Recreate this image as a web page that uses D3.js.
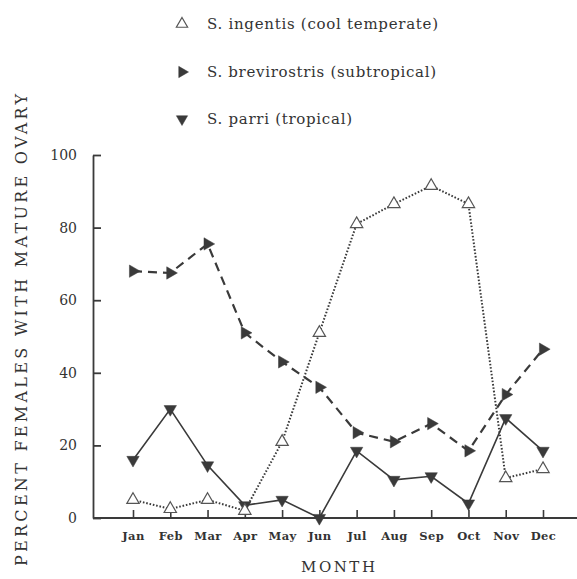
<!DOCTYPE html>
<html><head><meta charset="utf-8">
<script src="https://cdn.jsdelivr.net/npm/d3@7"></script>
<style>
html,body{margin:0;padding:0;background:#fff;}
svg{display:block;}
</style></head>
<body>
<svg id="chart" width="577" height="579"></svg>
<script>
const months = ["Jan","Feb","Mar","Apr","May","Jun","Jul","Aug","Sep","Oct","Nov","Dec"];
const yTicks = [0,20,40,60,80,100];
const ingentis = [5,2.5,5,2,21,51,81,86.5,91.5,86.5,11,13.5];
const brevirostris = [68,67.5,75.5,51,43,36,23.5,21,26,18.5,34,46.5];
const parri = [16,30,14.5,3.5,5,0,18.5,10.5,11.5,4,27.5,18.5];
const legendLabels = ["S. ingentis (cool temperate)","S. brevirostris (subtropical)","S. parri (tropical)"];

const ink = "#3a3a3a";
const svg = d3.select("#chart");
const x = d3.scalePoint().domain(months).range([133,543]);
const y = d3.scaleLinear().domain([0,100]).range([518,155]);
const axisX = 93;

// Y axis
const gy = svg.append("g").attr("transform",`translate(${axisX},0)`)
  .call(d3.axisLeft(y).tickValues(yTicks).tickSize(-8).tickSizeOuter(0).tickPadding(16));
gy.selectAll("path,line").attr("stroke",ink).attr("stroke-width",1.8);
gy.selectAll("text").attr("font-family","DejaVu Serif").attr("font-size",14).attr("fill","#333");

// X axis
const gx = svg.append("g").attr("transform",`translate(0,${y(0)})`)
  .call(d3.axisBottom(x).tickSize(-8).tickSizeOuter(0).tickPadding(14));
gx.select(".domain").remove();
gx.selectAll("line").attr("stroke",ink).attr("stroke-width",1.6);
gx.selectAll("text").attr("font-family","DejaVu Serif").attr("font-size",11.5).attr("font-weight","bold").attr("fill","#333").attr("letter-spacing",0.4);
svg.append("line").attr("x1",axisX).attr("x2",577).attr("y1",y(0)).attr("y2",y(0)).attr("stroke",ink).attr("stroke-width",1.8);

// Axis titles
svg.append("text").attr("x",338).attr("y",572).attr("text-anchor","middle")
  .attr("font-family","DejaVu Serif").attr("font-size",15).attr("fill","#333")
  .attr("textLength",74).attr("lengthAdjust","spacing").text("MONTH");
svg.append("text").attr("transform","translate(27,330) rotate(-90)").attr("text-anchor","middle")
  .attr("font-family","DejaVu Serif").attr("font-size",16).attr("fill","#333")
  .attr("textLength",472).attr("lengthAdjust","spacing").text("PERCENT FEMALES WITH MATURE OVARY");

const line = d3.line().x((d,i)=>x(months[i])).y(d=>y(d));

// Lines
svg.append("path").datum(brevirostris).attr("d",line).attr("fill","none")
  .attr("stroke",ink).attr("stroke-width",2.2).attr("stroke-dasharray","9,6");
svg.append("path").datum(parri).attr("d",line).attr("fill","none")
  .attr("stroke",ink).attr("stroke-width",1.6);
svg.append("path").datum(ingentis).attr("d",line).attr("fill","none")
  .attr("stroke",ink).attr("stroke-width",2).attr("stroke-dasharray","1.6,1.8");

// Markers
const triUp = d3.symbol().type(d3.symbolTriangle).size(66)();
function addMarkers(data, rot, filled){
  svg.append("g").selectAll("path").data(data).join("path")
    .attr("d",triUp)
    .attr("transform",(d,i)=>`translate(${x(months[i])},${y(d)}) rotate(${rot})`)
    .attr("fill",filled?"#3a3a3a":"#fff")
    .attr("stroke",filled?"#3a3a3a":"#555")
    .attr("stroke-width",filled?0.5:1.2);
}
addMarkers(brevirostris,90,true);
addMarkers(parri,180,true);
addMarkers(ingentis,0,false);

// Legend
const legRows = [
  {y:24, rot:0, filled:false, w:231},
  {y:72, rot:90, filled:true, w:229},
  {y:119, rot:180, filled:true, w:145}
];
legRows.forEach((r,i)=>{
  svg.append("path").attr("d",d3.symbol().type(d3.symbolTriangle).size(55)())
    .attr("transform",`translate(182,${r.y}) rotate(${r.rot})`)
    .attr("fill",r.filled?"#3a3a3a":"#fff").attr("stroke",r.filled?"#3a3a3a":"#555").attr("stroke-width",r.filled?0.5:1.2);
  svg.append("text").attr("x",207).attr("y",r.y+5)
    .attr("font-family","DejaVu Serif").attr("font-size",15).attr("fill","#333")
    .attr("textLength",r.w).attr("lengthAdjust","spacing").text(legendLabels[i]);
});
</script>
</body></html>
